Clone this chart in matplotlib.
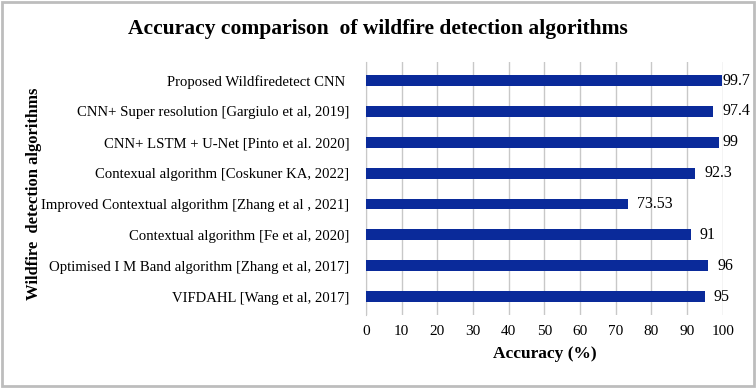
import matplotlib.pyplot as plt
from matplotlib.patches import Rectangle

algorithms = [
    'VIFDAHL [Wang et al, 2017]',
    'Optimised I M Band algorithm [Zhang et al, 2017]',
    'Contextual algorithm [Fe et al, 2020]',
    'Improved Contextual algorithm [Zhang et al , 2021]',
    'Contexual algorithm [Coskuner KA, 2022]',
    'CNN+ LSTM + U-Net [Pinto et al. 2020]',
    'CNN+ Super resolution [Gargiulo et al, 2019]',
    'Proposed Wildfiredetect CNN ',
]
accuracy = [95, 96, 91, 73.53, 92.3, 99, 97.4, 99.7]
value_labels = ['95', '96', '91', '73.53', '92.3', '99', '97.4', '99.7']
ticks = [0, 10, 20, 30, 40, 50, 60, 70, 80, 90, 100]

plt.rcParams['font.family'] = ['Liberation Serif', 'DejaVu Serif']

fig = plt.figure(figsize=(7.56, 3.88), dpi=100)
ax = fig.add_axes([0.484, 0.188, 0.472, 0.652])

ypos = range(len(algorithms))
ax.barh(ypos, accuracy, height=0.35, color='#0a2a9a', zorder=3)
for y, v, lab in zip(ypos, accuracy, value_labels):
    ax.text(min(v + 2.5, 100), y, lab, va='center', ha='left', fontsize=11.5, zorder=4)

ax.set_xlim(0, 100)
ax.set_ylim(-0.6, len(algorithms) - 0.4)
ax.set_xticks(ticks)
ax.set_yticks(list(ypos))
ax.set_yticklabels(algorithms, fontsize=10.6)
ax.tick_params(axis='y', length=0, pad=12)
ax.tick_params(axis='x', length=0, pad=7, labelsize=11)
ax.grid(axis='x', color='#c8c8c8', linewidth=1, zorder=0)

for s in ['top', 'right', 'bottom']:
    ax.spines[s].set_visible(False)
ax.spines['left'].set_color('#c8c8c8')

ax.set_xlabel('Accuracy (%)', fontsize=12.5, fontweight='bold', labelpad=6)
fig.text(0.045, 0.5, 'Wildfire  detection algorithms', rotation=90,
         ha='center', va='center', fontsize=12, fontweight='bold')
fig.text(0.5, 0.925, 'Accuracy comparison  of wildfire detection algorithms',
         ha='center', va='center', fontsize=15.5, fontweight='bold')

fig.patches.append(Rectangle((0.003, 0.005), 0.994, 0.99, transform=fig.transFigure,
                             fill=False, edgecolor='#bdbdbd', linewidth=2))

fig.savefig('out.png', dpi=100)
